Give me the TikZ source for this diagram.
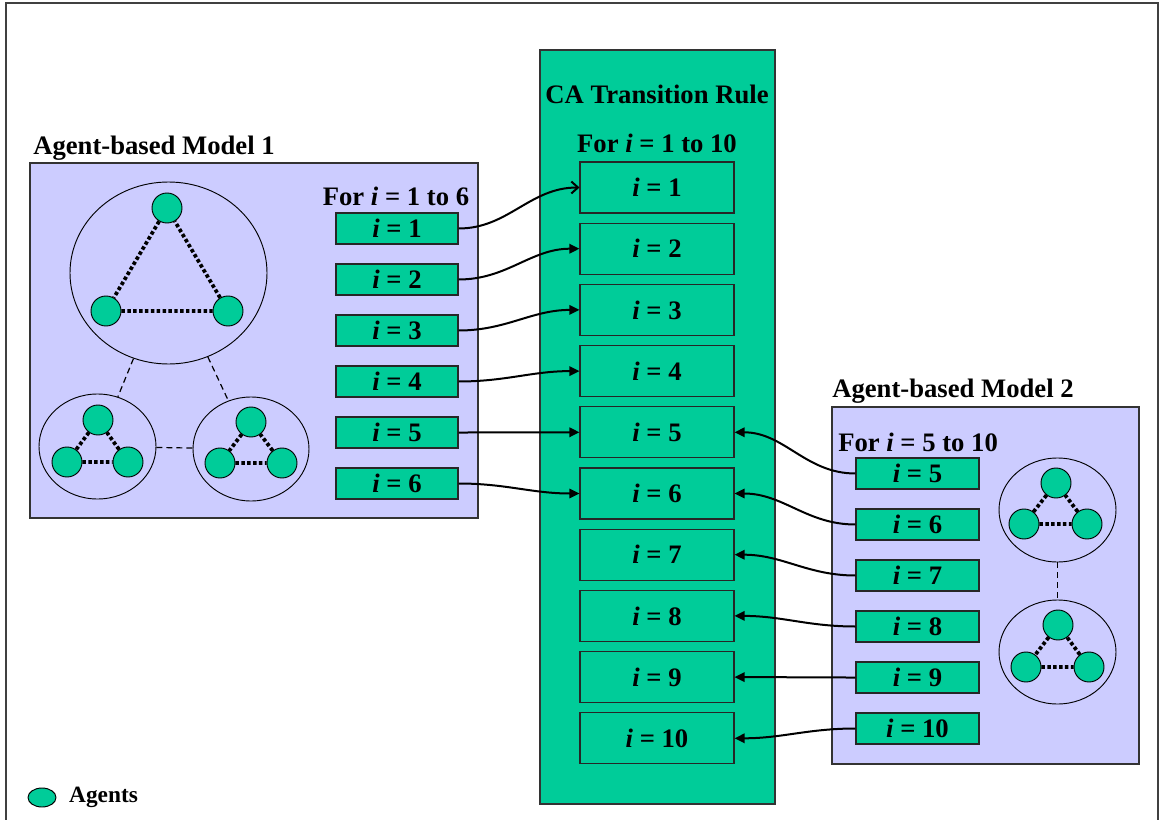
\documentclass[tikz,border=0pt]{standalone}
\usepackage{fontspec}
\setmainfont{Liberation Serif}
\usetikzlibrary{shapes.geometric,arrows.meta,positioning}
\definecolor{agentgreen}{HTML}{00CC99}
\definecolor{modelblue}{HTML}{CCCCFF}

\begin{document}
\begin{tikzpicture}[x=0.75pt,y=-0.75pt,
    font=\bfseries\fontsize{20}{24}\selectfont,
    panel/.style={rectangle,draw=black!80,line width=0.9pt,inner sep=0pt},
    ibox/.style={rectangle,draw=black!85,line width=0.8pt,fill=agentgreen,inner sep=0pt,
      minimum width=91.5pt,minimum height=23.25pt},
    rulebox/.style={ibox,minimum width=115.5pt,minimum height=38.25pt},
    group/.style={ellipse,draw,inner sep=0pt,line width=0.7pt},
    agent/.style={circle,draw,fill=agentgreen,inner sep=0pt,minimum size=22.5pt,line width=0.7pt},
    bond/.style={line width=2.8pt,dash pattern=on 2.6pt off 1.8pt},
    tie/.style={line width=0.9pt,dash pattern=on 4.5pt off 3pt},
    link/.style={line width=1.5pt,-{Triangle[length=7.5pt,width=7pt]}}]
  \useasboundingbox (0,0) rectangle (1160,820);
  \draw[black!75,line width=1.2pt] (6,822) -- (6,3) -- (1158,3) -- (1158,822);

  % panels
  \node[panel,fill=modelblue,minimum width=336pt,minimum height=266.25pt] (m1) at (254,340.5) {};
  \node[panel,fill=agentgreen,minimum width=176.25pt,minimum height=565.5pt] (ca) at (657.5,427) {};
  \node[panel,fill=modelblue,minimum width=230.25pt,minimum height=267.75pt] (m2) at (985.5,585.5) {};

  % titles
  \node[anchor=base west,inner sep=0pt] (t1) at (33,155) {Agent-based Model 1};
  \node[anchor=base west,inner sep=0pt] (t2) at (832,397) {Agent-based Model 2};
  \node (catitle) at (657,94) {CA Transition Rule};
  \node (for10) at (657,143.5) {For \textit{i} = 1 to 10};
  \node (for6) at (396,196) {For \textit{i} = 1 to 6};
  \node[anchor=west,inner sep=0pt] (for5) at (838,442) {For \textit{i} = 5 to 10};

  % boxes for i
  \foreach \i in {1,...,6}
    \node[ibox] (a\i) at (397,{228.5+(\i-1)*51}) {\textit{i} = \i};
  \foreach \i in {1,...,10}
    \node[rulebox] (r\i) at (657,{187.5+(\i-1)*61.2}) {\textit{i} = \i};
  \foreach \i in {5,...,10}
    \node[ibox,minimum width=92.25pt] (b\i) at (917.5,{473.5+(\i-5)*51}) {\textit{i} = \i};

  % model 1 groups
  \node[group,minimum width=147.75pt,minimum height=136.5pt] (big) at (168.5,273) {};
  \node[group,minimum width=87.75pt,minimum height=78.75pt] (sl) at (97.5,446.5) {};
  \node[group,minimum width=87pt,minimum height=78pt] (sr) at (251,449) {};
  \draw[tie] (big) -- (sl);
  \draw[tie] (big) -- (sr);
  \draw[tie] (sl) -- (sr);

  % model 2 groups
  \node[group,minimum width=87.75pt,minimum height=78pt] (gt) at (1057.5,510) {};
  \node[group,minimum width=87.75pt,minimum height=78pt] (gb) at (1057.5,652) {};
  \draw[tie] (gt) -- (gb);

  % agents
  \node[agent] (big1) at (167,208) {};
  \node[agent] (big2) at (106,311) {};
  \node[agent] (big3) at (228,311) {};
  \node[agent] (sl1) at (98,420) {};
  \node[agent] (sl2) at (67,462) {};
  \node[agent] (sl3) at (128,462) {};
  \node[agent] (sr1) at (251,422) {};
  \node[agent] (sr2) at (220,463) {};
  \node[agent] (sr3) at (282,463) {};
  \node[agent] (gt1) at (1056,483) {};
  \node[agent] (gt2) at (1024,524) {};
  \node[agent] (gt3) at (1087,524) {};
  \node[agent] (gb1) at (1058,625) {};
  \node[agent] (gb2) at (1026,667) {};
  \node[agent] (gb3) at (1089,667) {};
  \foreach \g in {big,sl,sr,gt,gb}
    \draw[bond] (\g1) -- (\g2) -- (\g3) -- (\g1);

  % connectors
  \draw[link,-{Straight Barb[length=5pt,width=9pt]}] (a1.east) to[out=0,in=180] (r1.west);
  \foreach \i in {2,...,6}
    \draw[link] (a\i.east) to[out=0,in=180] (r\i.west);
  \foreach \i in {5,...,10}
    \draw[link] (b\i.west) to[out=180,in=0] (r\i.east);

  % legend
  \node[agent,ellipse,minimum width=21pt,minimum height=14.25pt] (key) at (42,797.5) {};
  \node[right=6pt of key,font=\bfseries\fontsize{17.5}{20}\selectfont] (keytext) {Agents};
\end{tikzpicture}
\end{document}
